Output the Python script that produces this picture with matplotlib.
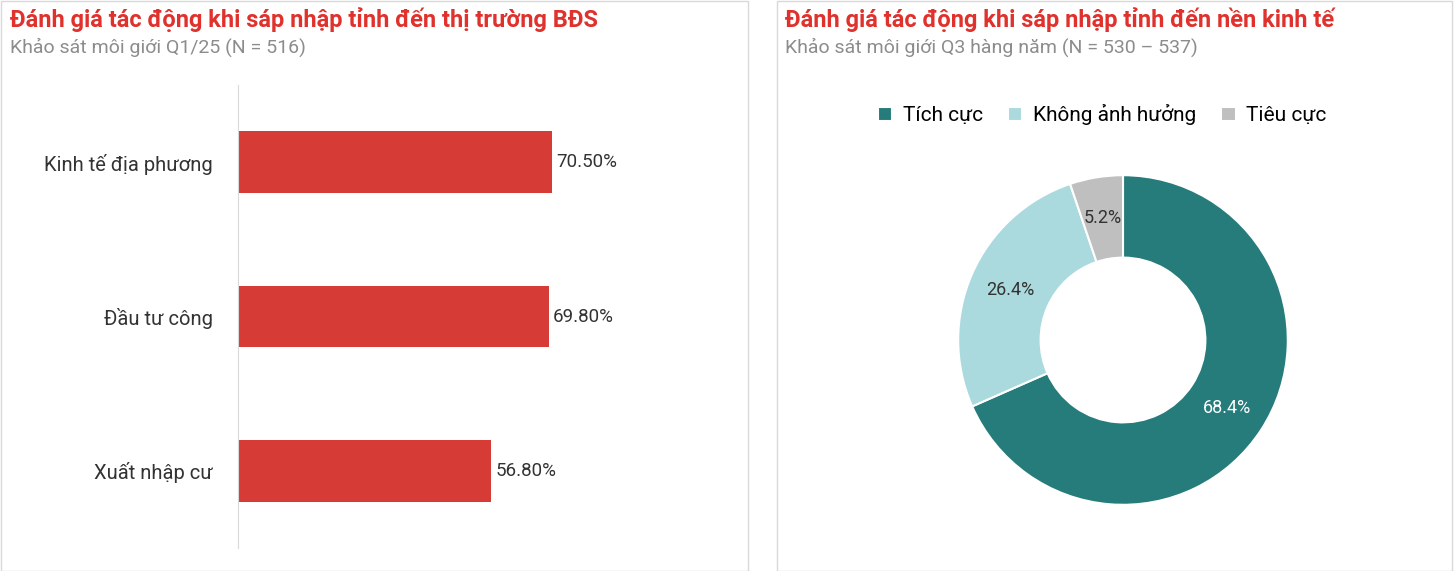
import numpy as np
import matplotlib.pyplot as plt
from matplotlib.patches import Rectangle

W, H = 1454, 571

bar_labels = ["Kinh tế địa phương", "Đầu tư công", "Xuất nhập cư"]
bar_values = [70.5, 69.8, 56.8]

pie_labels = ["Tích cực", "Không ảnh hưởng", "Tiêu cực"]
pie_values = [68.4, 26.4, 5.2]

RED = "#D63B36"
TITLE_RED = "#E0312C"
GREY_TXT = "#8C8C8C"
PIE_COLORS = ["#267B7B", "#AADADD", "#BFBFBF"]

plt.rcParams["font.family"] = ["Roboto", "DejaVu Sans"]

fig = plt.figure(figsize=(W / 100, H / 100), dpi=100)


def px_axes(x0, y0, x1, y1):
    return fig.add_axes([x0 / W, 1 - y1 / H, (x1 - x0) / W, (y1 - y0) / H])


# panel frames
for x0, x1 in [(1, 748), (777, 1452)]:
    fig.patches.append(Rectangle((x0 / W, 0), (x1 - x0) / W, 0.998,
                                 transform=fig.transFigure, fill=False,
                                 edgecolor="#D9D9D9", linewidth=1))

fig.text(10 / W, 1 - 20 / H, "Đánh giá tác động khi sáp nhập tỉnh đến thị trường BĐS",
         color=TITLE_RED, fontsize=17, fontweight="bold", va="center")
fig.text(10 / W, 1 - 47 / H, "Khảo sát môi giới Q1/25 (N = 516)",
         color=GREY_TXT, fontsize=14, va="center")
fig.text(785 / W, 1 - 20 / H, "Đánh giá tác động khi sáp nhập tỉnh đến nền kinh tế",
         color=TITLE_RED, fontsize=17, fontweight="bold", va="center")
fig.text(785 / W, 1 - 47 / H, "Khảo sát môi giới Q3 hàng năm (N = 530 – 537)",
         color=GREY_TXT, fontsize=14, va="center")

# bar chart
ax = px_axes(238, 85, 683, 548)
ypos = list(range(len(bar_labels)))
ax.barh(ypos, bar_values, height=0.4, color=RED)
for y, v in zip(ypos, bar_values):
    ax.text(v + 1, y, f"{v:.2f}%", va="center", fontsize=13.5, color="#333333")
ax.set_yticks(ypos)
ax.set_yticklabels(bar_labels, fontsize=14.5, color="#333333")
ax.set_ylim(2.5, -0.5)
ax.set_xlim(0, 100)
ax.set_xticks([])
ax.tick_params(axis="y", length=0, pad=18)
for s in ["top", "right", "bottom"]:
    ax.spines[s].set_visible(False)
ax.spines["left"].set_color("#D9D9D9")

# donut
ax2 = px_axes(917, 134, 1329, 546)
wedges, _ = ax2.pie(pie_values, colors=PIE_COLORS, startangle=90, counterclock=False,
                    wedgeprops=dict(width=0.5, edgecolor="white", linewidth=1.5))
ang = 90
for v, c in zip(pie_values, ["white", "#333333", "#333333"]):
    mid = np.deg2rad(ang - v * 3.6 / 2)
    ang -= v * 3.6
    ax2.text(0.75 * np.cos(mid), 0.75 * np.sin(mid), f"{v}%", ha="center",
             va="center", fontsize=13, color=c)
ax2.set_aspect("equal")

fig.legend(wedges, pie_labels, loc="center", bbox_to_anchor=(1102 / W, 1 - 115 / H),
           ncol=3, frameon=False, fontsize=15, handlelength=0.7, handleheight=0.7,
           columnspacing=1.2, handletextpad=0.5)

fig.savefig("out.png", dpi=100, facecolor="white")
